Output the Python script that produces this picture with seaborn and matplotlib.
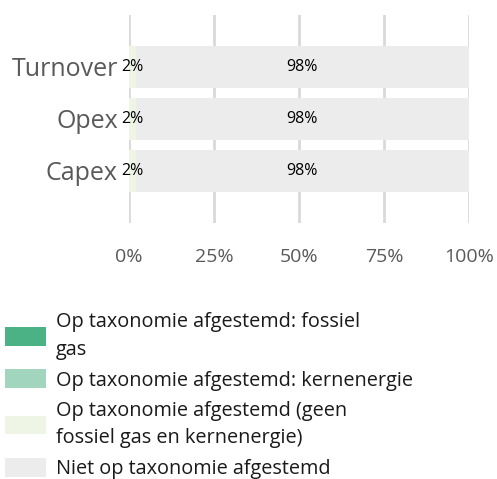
import matplotlib
matplotlib.use("Agg")
import matplotlib.pyplot as plt
import seaborn as sns
import pandas as pd
from matplotlib.patches import Patch

categories = ["Turnover", "Opex", "Capex"]
fossil_gas = [0, 0, 0]
nuclear = [0, 0, 0]
aligned_other = [2, 2, 2]
not_aligned = [98, 98, 98]
series_names = [
    "Op taxonomie afgestemd: fossiel\ngas",
    "Op taxonomie afgestemd: kernenergie",
    "Op taxonomie afgestemd (geen\nfossiel gas en kernenergie)",
    "Niet op taxonomie afgestemd",
]
colors = ["#4bb286", "#a2d5bd", "#eef5e4", "#ececec"]
tick_labels = ["0%", "25%", "50%", "75%", "100%"]

sns.set_theme(style="white")
plt.rcParams["font.family"] = ["Open Sans", "DejaVu Sans"]

fig = plt.figure(figsize=(4.97, 4.79), dpi=100)
ax = fig.add_axes([129/497, 1-223/479, 340/497, 208/479])

series = [fossil_gas, nuclear, aligned_other, not_aligned]
cum = []
run = [0, 0, 0]
for s in series:
    run = [a + b for a, b in zip(run, s)]
    cum.append(list(run))

# draw from outermost to innermost so stacking is visible
for i in reversed(range(len(series))):
    df = pd.DataFrame({"cat": categories, "val": cum[i]})
    sns.barplot(data=df, y="cat", x="val", orient="h", color=colors[i],
                width=0.8, ax=ax, saturation=1, edgecolor="none", zorder=2)

# labels
for j, cat in enumerate(categories):
    start = 0
    for i, s in enumerate(series):
        v = s[j]
        if v > 0:
            ax.text(start + v / 2, j, f"{v:.0f}%", ha="center", va="center",
                    fontsize=11.5, color="black", zorder=3,
                    family=["Open Sans", "DejaVu Sans"])
        start += v

ax.set_xlim(0, 100)
ax.set_ylim(2 + 1, -1)
ax.set_xticks([0, 25, 50, 75, 100])
ax.set_xticklabels(tick_labels)
ax.set_xlabel("")
ax.set_ylabel("")
for x in [0, 25, 50, 75, 100]:
    ax.axvline(x, color="#d9d9d9", lw=2, zorder=1)
for sp in ax.spines.values():
    sp.set_visible(False)
ax.tick_params(axis="x", labelsize=14, colors="#595959", length=0, pad=18)
ax.tick_params(axis="y", labelsize=18, colors="#595959", length=0, pad=8)

handles = [Patch(facecolor=c, edgecolor="none") for c in colors]
leg = fig.legend(handles, series_names, loc="upper left",
                 bbox_to_anchor=(5/497, 1 - 312/479), frameon=False,
                 fontsize=14.3, handlelength=2.05, handleheight=1.08,
                 handletextpad=0.5, labelspacing=0.5, borderaxespad=0,
                 borderpad=0)
for t in leg.get_texts():
    t.set_linespacing(1.5)
    t.set_color("#1a1a1a")

fig.savefig("out.png", dpi=100)
